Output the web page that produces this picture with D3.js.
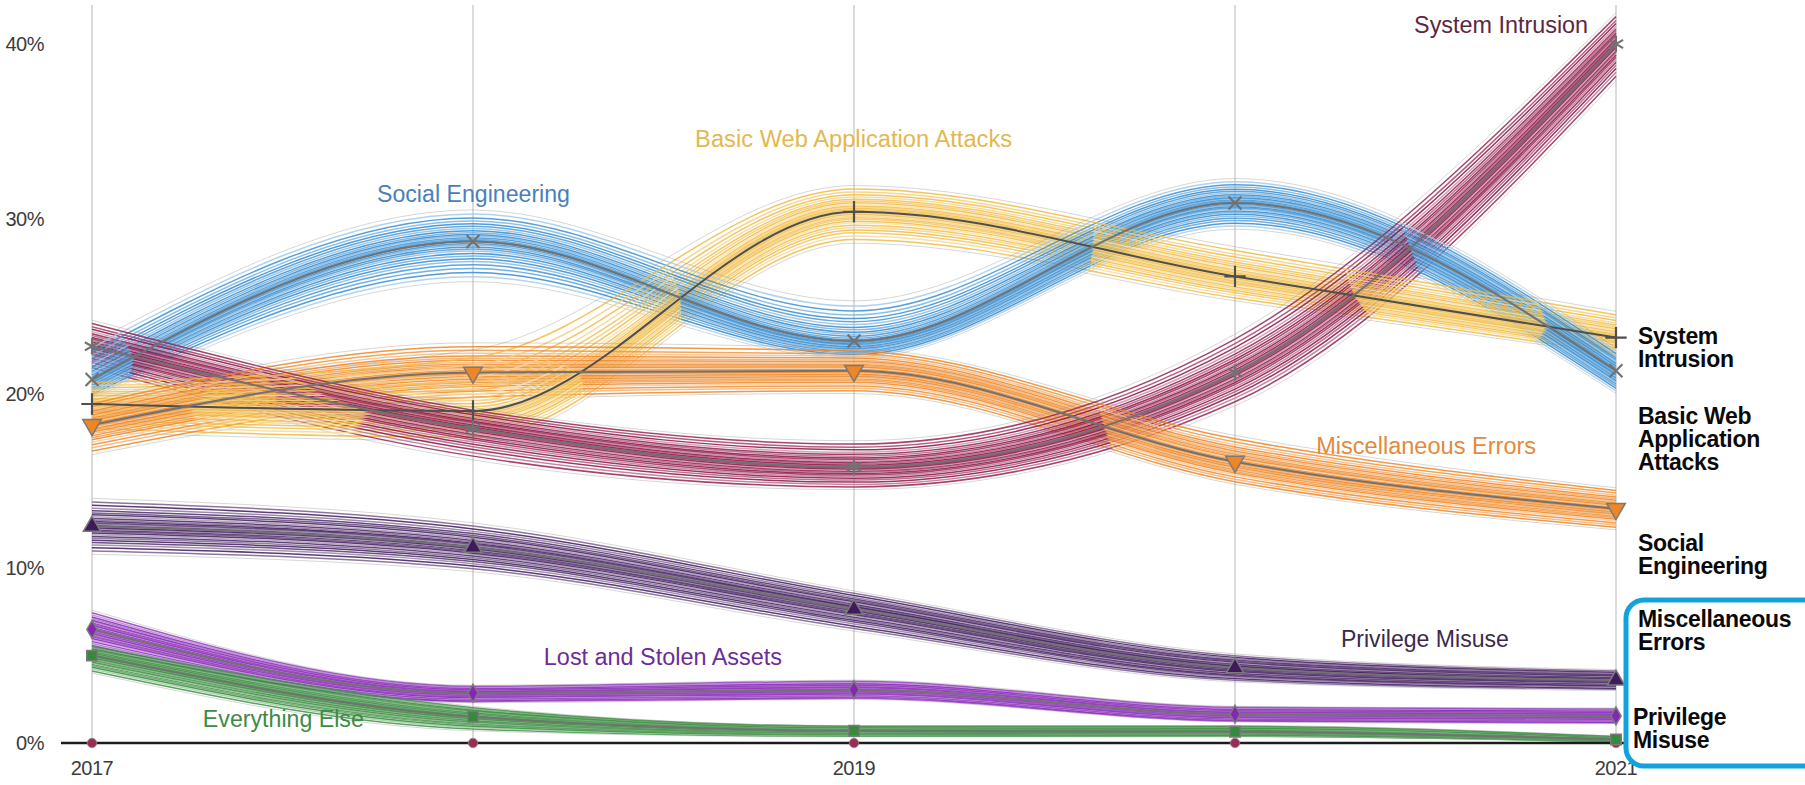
<!DOCTYPE html>
<html>
<head>
<meta charset="utf-8">
<script src="https://cdn.jsdelivr.net/npm/d3@7"></script>
<style>
  html, body { margin: 0; padding: 0; background: #ffffff; }
  svg { display: block; }
  text { font-family: "Liberation Sans", Arial, Helvetica, sans-serif; }
</style>
</head>
<body>
<svg id="chart" width="1805" height="785"></svg>
<script>
// ---- data -------------------------------------------------------------
const years = [2017, 2018, 2019, 2020, 2021];
const yearLabels = [2017, 2019, 2021];
const yTicks = [0, 10, 20, 30, 40];

// central estimate, % of breaches
const systemIntrusion   = [22.7, 18.0, 15.8, 21.2, 40.0];
const basicWebApp       = [19.4, 19.0, 30.4, 26.7, 23.2];
const socialEngineering = [20.8, 28.7, 23.0, 30.9, 21.3];
const miscErrors        = [18.2, 21.2, 21.3, 16.1, 13.4];
const privilegeMisuse   = [12.4, 11.2, 7.65, 4.3, 3.6];
const lostStolenAssets  = [6.5, 2.85, 3.05, 1.65, 1.55];
const everythingElse    = [5.0, 1.5, 0.7, 0.65, 0.2];
const denialOfService   = [0, 0, 0, 0, 0];

// lower / upper edge of the simulated outcomes
const systemIntrusionLow    = [21.3, 16.2, 14.5, 19.3, 37.9];
const systemIntrusionHigh   = [24.2, 19.2, 17.3, 23.4, 41.8];
const basicWebAppLow        = [17.8, 17.3, 28.6, 25.3, 22.2];
const basicWebAppHigh       = [20.8, 22.5, 31.9, 28.4, 24.7];
const socialEngineeringLow  = [19.7, 26.4, 22.0, 29.4, 20.0];
const socialEngineeringHigh = [22.9, 30.5, 25.3, 32.3, 22.6];
const miscErrorsLow         = [16.5, 19.6, 20.0, 14.8, 12.2];
const miscErrorsHigh        = [19.6, 22.9, 22.6, 17.6, 14.6];
const privilegeMisuseLow    = [10.8, 9.8, 6.4, 3.5, 3.0];
const privilegeMisuseHigh   = [14.0, 12.6, 8.7, 5.1, 4.2];
const lostStolenAssetsLow   = [5.3, 2.3, 2.5, 1.2, 1.1];
const lostStolenAssetsHigh  = [7.6, 3.3, 3.6, 2.1, 2.0];
const everythingElseLow     = [4.0, 0.7, 0.35, 0.35, 0.05];
const everythingElseHigh    = [5.6, 2.1, 1.0, 1.0, 0.4];

// ---- layout & styles ---------------------------------------------------
const svg = d3.select("#chart");
const x = d3.scaleLinear().domain([2017, 2021]).range([92, 1616]);
const y = d3.scaleLinear().domain([0, 40]).range([743, 44]);

// relative position of each thin outcome line inside its band (-1 = low edge, 1 = high edge)
const bandOffsets = [-1, -0.88, -0.77, -0.67, -0.58, -0.5, -0.43, -0.36, -0.3, -0.24, -0.19, -0.14,
  -0.09, -0.05, -0.01, 0.03, 0.07, 0.12, 0.17, 0.22, 0.28, 0.34, 0.41, 0.48, 0.56, 0.65, 0.75, 0.87, 1];
const tintPattern = [0.3, 0, 0.45, 0.12, 0, 0.35, 0.05, 0.55, 0, 0.2, 0.08, 0.4, 0];

const series = [
  { name: "Basic Web Application Attacks", mid: basicWebApp, low: basicWebAppLow, high: basicWebAppHigh,
    color: "#f1bb42", labelColor: "#e3b84f", symbol: d3.symbolPlus, size: 150, filled: false, midColor: "#4f4f4f",
    label: { at: [2018.583, 34.11], len: 317 } },
  { name: "Miscellaneous Errors", mid: miscErrors, low: miscErrorsLow, high: miscErrorsHigh,
    color: "#ee8624", labelColor: "#e38a3c", symbol: d3.symbolTriangle, size: 150, filled: true, flip: true,
    label: { at: [2020.213, 16.54], len: 220 } },
  { name: "Social Engineering", mid: socialEngineering, low: socialEngineeringLow, high: socialEngineeringHigh,
    color: "#338bd0", labelColor: "#4a80b9", symbol: d3.symbolTimes, size: 110, filled: false,
    label: { at: [2017.748, 30.96], len: 193 } },
  { name: "System Intrusion", mid: systemIntrusion, low: systemIntrusionLow, high: systemIntrusionHigh,
    color: "#8c1245", labelColor: "#5b2742", symbol: d3.symbolAsterisk, size: 190, filled: false,
    label: { at: [2020.47, 40.63], len: 174 } },
  { name: "Privilege Misuse", mid: privilegeMisuse, low: privilegeMisuseLow, high: privilegeMisuseHigh,
    color: "#3f1a5c", labelColor: "#3b2a4a", symbol: d3.symbolTriangle, size: 130, filled: true,
    label: { at: [2020.278, 5.49], len: 168 } },
  { name: "Lost and Stolen Assets", mid: lostStolenAssets, low: lostStolenAssetsLow, high: lostStolenAssetsHigh,
    color: "#8526b4", labelColor: "#6b2c9c", symbol: d3.symbolDiamond, size: 90, filled: true,
    label: { at: [2018.186, 4.46], len: 238 } },
  { name: "Everything Else", mid: everythingElse, low: everythingElseLow, high: everythingElseHigh,
    color: "#368a3b", labelColor: "#3f8a47", symbol: d3.symbolSquare, size: 110, filled: true,
    label: { at: [2017.291, 0.92], len: 161 } }
];

const line = d3.line()
  .x((d, i) => x(years[i]))
  .y(d => y(d))
  .curve(d3.curveMonotoneX);

// ---- vertical year rules ------------------------------------------------
svg.append("g").selectAll("line").data(years).join("line")
  .attr("x1", d => x(d)).attr("x2", d => x(d))
  .attr("y1", 5).attr("y2", y(0))
  .attr("stroke", "#cfcfcf").attr("stroke-width", 1.5);

// ---- y axis labels --------------------------------------------------------
svg.append("g").selectAll("text").data(yTicks).join("text")
  .attr("x", 44).attr("y", d => y(d)).attr("dy", "0.36em")
  .attr("text-anchor", "end").attr("font-size", 20).attr("fill", "#3c3c3c")
  .attr("letter-spacing", -0.5)
  .text(d => d + "%");

// ---- x axis labels --------------------------------------------------------
svg.append("g").selectAll("text").data(yearLabels).join("text")
  .attr("x", d => x(d)).attr("y", 775)
  .attr("text-anchor", "middle").attr("font-size", 20).attr("fill", "#3c3c3c")
  .attr("letter-spacing", -0.5)
  .text(d => d);

// ---- simulated outcome lines, interleaved across categories ---------------
const drawLayer = svg.append("g").attr("fill", "none");
bandOffsets.forEach((o, k) => {
  series.forEach((s, si) => {
    const vals = s.mid.map((m, i) => o < 0 ? m + o * (m - s.low[i]) : m + o * (s.high[i] - m));
    const edge = Math.abs(o) === 1;
    const tint = tintPattern[(k + si * 3) % tintPattern.length];
    drawLayer.append("path")
      .attr("d", line(vals))
      .attr("stroke", edge ? "#8f8f8f" : d3.interpolateRgb(s.color, "#ffffff")(tint))
      .attr("stroke-width", edge ? 0.8 : 1.5)
      .attr("stroke-opacity", edge ? 0.45 : 0.85);
  });
});

// ---- zero-level category ---------------------------------------------------
svg.append("path")
  .attr("d", line(denialOfService))
  .attr("fill", "none").attr("stroke", "#a3375f").attr("stroke-width", 2);

// ---- baseline ---------------------------------------------------------------
svg.append("line")
  .attr("x1", 61).attr("x2", 1625).attr("y1", y(0)).attr("y2", y(0))
  .attr("stroke", "#1c1c1c").attr("stroke-width", 2.5);

svg.append("g").selectAll("path").data(denialOfService).join("path")
  .attr("transform", (d, i) => `translate(${x(years[i])},${y(d)})`)
  .attr("d", d3.symbol(d3.symbolCircle, 70)())
  .attr("fill", "#9c2c55").attr("stroke", "#8a8a8a").attr("stroke-width", 0.8);

// ---- central estimate lines + markers ---------------------------------------
series.forEach(s => {
  svg.append("path")
    .attr("d", line(s.mid))
    .attr("fill", "none")
    .attr("stroke", s.midColor || "#727272")
    .attr("stroke-width", 2);
});
series.forEach(s => {
  svg.append("g").selectAll("path").data(s.mid).join("path")
    .attr("transform", (d, i) => `translate(${x(years[i])},${y(d)})${s.flip ? " rotate(180)" : ""}`)
    .attr("d", d3.symbol(s.symbol, s.size)())
    .attr("fill", s.filled ? s.color : "none")
    .attr("stroke", s.filled ? "#7a7a7a" : (s.midColor || "#727272"))
    .attr("stroke-width", s.filled ? 1.5 : 2.2);
});

// ---- in-plot category labels -----------------------------------------------
series.forEach(s => {
  svg.append("text")
    .attr("x", x(s.label.at[0])).attr("y", y(s.label.at[1]))
    .attr("font-size", 23)
    .attr("fill", s.labelColor)
    .attr("textLength", s.label.len)
    .attr("lengthAdjust", "spacingAndGlyphs")
    .text(s.name);
});

// ---- ranking list on the right -------------------------------------------------
const rightLabels = [
  { lines: ["System", "Intrusion"], x: 1638, y: 344 },
  { lines: ["Basic Web", "Application", "Attacks"], x: 1638, y: 424 },
  { lines: ["Social", "Engineering"], x: 1638, y: 551 },
  { lines: ["Miscellaneous", "Errors"], x: 1638, y: 627 },
  { lines: ["Privilege", "Misuse"], x: 1633, y: 725 }
];
rightLabels.forEach(r => {
  const t = svg.append("text")
    .attr("x", r.x).attr("y", r.y)
    .attr("font-size", 23).attr("font-weight", "bold").attr("fill", "#0a0a0a")
    .attr("letter-spacing", -0.3);
  r.lines.forEach((ln, i) => {
    t.append("tspan").attr("x", r.x).attr("dy", i === 0 ? 0 : 23.2).text(ln);
  });
});

// highlight frame around the last two entries
svg.append("rect")
  .attr("x", 1626).attr("y", 600).attr("width", 260).attr("height", 166)
  .attr("rx", 18).attr("ry", 18)
  .attr("fill", "none").attr("stroke", "#12a3df").attr("stroke-width", 5);
</script>
</body>
</html>
